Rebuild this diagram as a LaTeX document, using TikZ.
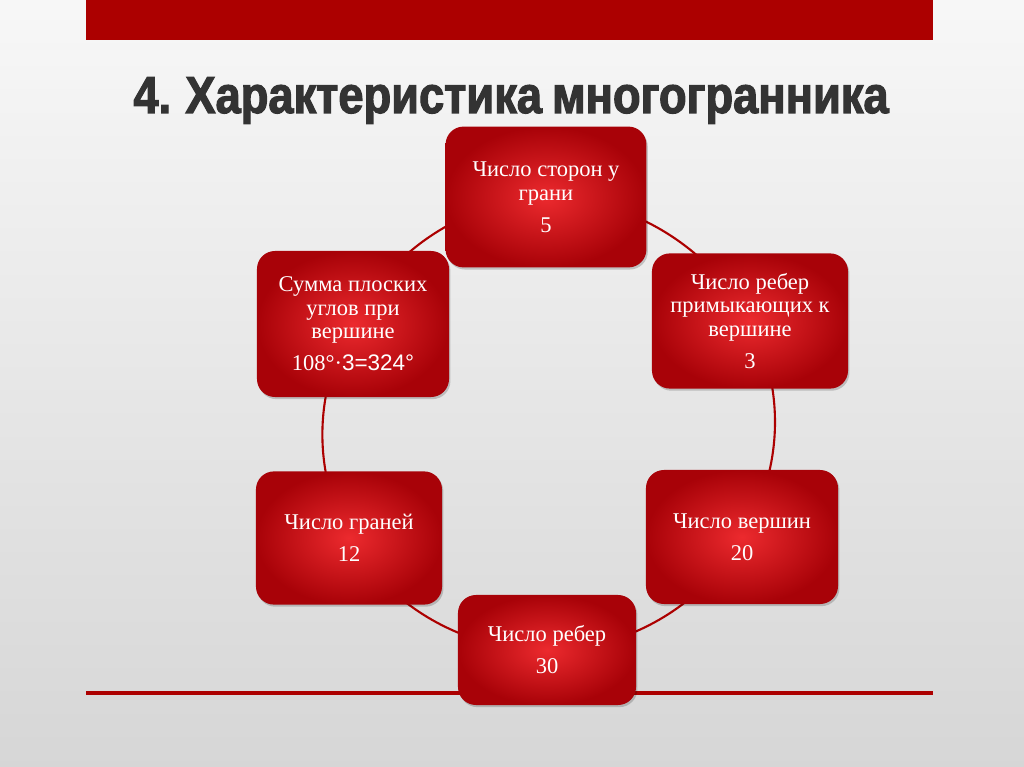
\documentclass[tikz,border=0pt]{standalone}
\usepackage{fontspec}
\setmainfont{Liberation Serif}
\setsansfont{Liberation Sans}
\newfontfamily\titlefont{Liberation Sans}[FakeStretch=0.87, WordSpace=0.8, BoldFeatures={FakeBold=2.2}]
\usepackage{tikz}
\usetikzlibrary{shadows, backgrounds}

\definecolor{slidered}{RGB}{172,0,0}
\definecolor{celldark}{RGB}{168,2,8}
\definecolor{celllight}{RGB}{236,42,46}

\begin{document}
\begin{tikzpicture}[x=0.025cm, y=-0.025cm,
  cell/.style={rounded corners=0.45cm, inner color=celllight, outer color=celldark,
               align=center, text=white, inner sep=0pt,
               font=\fontsize{16}{16.8}\selectfont,
               drop shadow={shadow xshift=1pt, shadow yshift=-1.5pt, opacity=0.18, fill=black}},
  ring/.style={draw=slidered, line width=1.5pt, bend left=30, looseness=0.91},
]
  \useasboundingbox (0,0) rectangle (1024,767);

  % ── Title ──
  \node[font=\titlefont\bfseries\fontsize{37}{40}\selectfont, text=black!80, anchor=base]
    (title) at (511,113) {4. Характеристика многогранника};

  % ── Six cells round the ring ──
  \node[cell, minimum width=5.02cm, minimum height=3.52cm] (sides) at (546,197)
    {Число сторон у\\грани\\[6pt]5};
  \node[cell, minimum width=4.90cm, minimum height=3.38cm] (meet) at (750,321)
    {Число ребер\\примыкающих к\\вершине\\[6pt]3};
  \node[cell, minimum width=4.80cm, minimum height=3.35cm] (verts) at (742,537)
    {Число вершин\\[6pt]20};
  \node[cell, minimum width=4.45cm, minimum height=2.75cm] (edges) at (547,650)
    {Число ребер\\[6pt]30};
  \node[cell, minimum width=4.65cm, minimum height=3.33cm] (faces) at (349,538)
    {Число граней\\[6pt]12};
  \node[cell, minimum width=4.80cm, minimum height=3.65cm] (angles) at (353,324)
    {Сумма плоских\\углов при\\вершине\\[6pt]108°·{\sffamily 3=324°}};

  \begin{pgfonlayer}{background}
    % slide backdrop, red bar and rule
    \shade[top color=black!3, bottom color=black!16] (0,0) rectangle (1024,767);
    \fill[slidered] (86,0) rectangle (933,40);
    \draw[slidered, line width=2.2pt] (86,693) -- (933,693);

    % ring arcs between neighbours
    \draw[ring] (sides.center) to (meet.center);
    \draw[ring] (meet.center) to (verts.center);
    \draw[ring] (verts.center) to (edges.center);
    \draw[ring] (edges.center) to (faces.center);
    \draw[ring] (faces.center) to (angles.center);
    \draw[ring] (angles.center) to (sides.center);
  \end{pgfonlayer}

\end{tikzpicture}
\end{document}
